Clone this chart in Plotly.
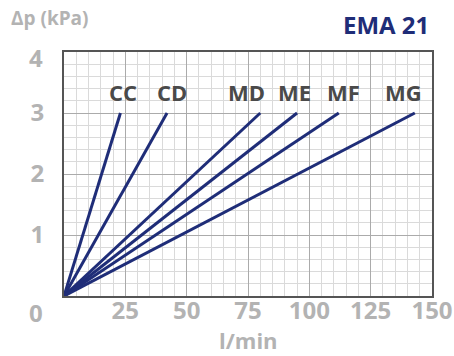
import plotly.graph_objects as go

series = ["CC", "CD", "MD", "ME", "MF", "MG"]
flow_end = [23, 42, 80, 95, 112, 143]
dp_end = [3, 3, 3, 3, 3, 3]
label_x = [24, 44, 74.5, 94, 114, 138.5]
label_y = 3.34
x_ticks = [25, 50, 75, 100, 125, 150]
y_ticks = [1, 2, 3]

navy = "#1f2d78"
gray = "#b3b3b3"
font = "Open Sans"

L, R, T, B = 64, 22, 52, 60
W, H = 454, 356
PW, PH = W - L - R, H - T - B


def px(x):
    return (x - L) / PW


def py(y):
    return (H - B - y) / PH


fig = go.Figure()
for name, fx, fy in zip(series, flow_end, dp_end):
    fig.add_trace(go.Scatter(x=[0, fx], y=[0, fy], mode="lines", name=name,
                             line=dict(color=navy, width=3), showlegend=False))

for name, lx in zip(series, label_x):
    fig.add_annotation(x=lx, y=label_y, text=f"<b>{name}</b>", showarrow=False,
                       xanchor="center", yanchor="middle",
                       font=dict(family=font, size=22, color="#4a4a4a"))


def paper_text(x, y, text, size, color, xanchor="center"):
    fig.add_annotation(x=px(x), y=py(y), xref="paper", yref="paper",
                       xanchor=xanchor, yanchor="middle", text=text, showarrow=False,
                       font=dict(family=font, size=size, color=color))


paper_text(36, 312, "<b>0</b>", 24, gray)
paper_text(35.5, 57.5, "<b>4</b>", 24, gray)
paper_text(9, 18, "<b>Δp (kPa)</b>", 19, gray, xanchor="left")
paper_text(431, 24, "<b>EMA 21</b>", 24, navy, xanchor="right")
paper_text(249, 340, "<b>l/min</b>", 22, gray)

fig.update_layout(
    width=W, height=H,
    margin=dict(l=L, r=R, t=T, b=B),
    paper_bgcolor="white", plot_bgcolor="white",
    font=dict(family=font),
)

fig.update_xaxes(range=[0, 150], tickvals=x_ticks, ticktext=[f"<b>{v}</b>" for v in x_ticks],
                 tickfont=dict(family=font, size=24, color=gray), automargin=False,
                 showgrid=True, gridcolor="#ababab", gridwidth=1,
                 minor=dict(dtick=5, showgrid=True, gridcolor="#dadada", gridwidth=1),
                 showline=True, linecolor="#555555", linewidth=2, mirror=True,
                 zeroline=False, ticks="", ticklen=0, ticklabelstandoff=-8)
fig.update_yaxes(range=[0, 4], tickvals=y_ticks, ticktext=[f"<b>{v}</b>" for v in y_ticks],
                 tickfont=dict(family=font, size=24, color=gray), automargin=False,
                 showgrid=True, gridcolor="#ababab", gridwidth=1,
                 minor=dict(dtick=0.2, showgrid=True, gridcolor="#dadada", gridwidth=1),
                 showline=True, linecolor="#555555", linewidth=2, mirror=True,
                 zeroline=False, ticks="", ticklen=0, ticklabelstandoff=13)

fig.write_html("out.html", config={"displayModeBar": False},
               post_script="document.body.style.margin='0';document.body.style.overflow='hidden';")
